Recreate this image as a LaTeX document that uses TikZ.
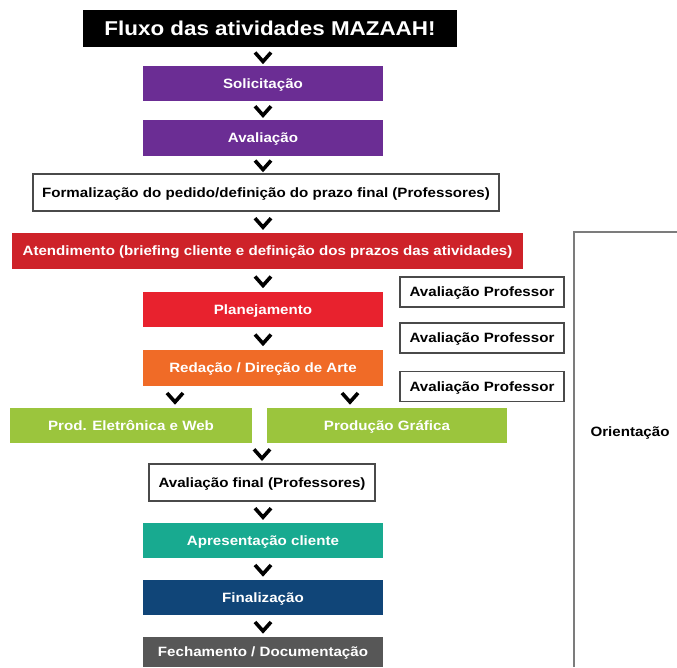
\documentclass[tikz,border=0pt]{standalone}
\usepackage{fontspec}
\setmainfont{Liberation Sans}
\newfontfamily\heavyfont[FakeStretch=1.12]{Liberation Sans}
\usetikzlibrary{calc}
\definecolor{cpurple}{HTML}{6B2D94}
\definecolor{cdred}{HTML}{CE2229}
\definecolor{cred}{HTML}{E8222E}
\definecolor{corange}{HTML}{F06B27}
\definecolor{cgreen}{HTML}{9BC53D}
\definecolor{cteal}{HTML}{18AA90}
\definecolor{cnavy}{HTML}{104578}
\definecolor{cgray}{HTML}{575757}
\definecolor{cline}{HTML}{7C7C7C}
\definecolor{cborder}{HTML}{4A4A4A}
\tikzset{
  x=1pt, y=-1pt,
  base/.style={rectangle, inner sep=0pt, anchor=center, text height=9.7pt, text depth=0pt,
    font=\heavyfont\bfseries\fontsize{13.5}{15}\selectfont},
  colbox/.style={base, fill=#1, text=white},
  whitebox/.style={base, draw=cborder, line width=1.2pt, fill=white, text=black},
  chev/.pic={\draw[line width=3.6pt, miter limit=10, black] (-8,-4) -- (0,5) -- (8,-4);}
}
\begin{document}
\begin{tikzpicture}
\useasboundingbox (0,0) rectangle (677,667);
% title
\node[base, fill=black, text=white, minimum width=374, minimum height=37, text height=14.3pt,
  font=\heavyfont\bfseries\fontsize{20}{22}\selectfont] (title) at (270,28.5) {Fluxo das atividades MAZAAH!};
% main column
\node[colbox=cpurple, minimum width=240, minimum height=35] (sol) at (263,83.5) {Solicitação};
\node[colbox=cpurple, minimum width=240, minimum height=36] (aval) at (263,137.5) {Avaliação};
\node[whitebox, minimum width=466, minimum height=37] (form) at (266,192.5) {Formalização do pedido/definição do prazo final (Professores)};
\node[colbox=cdred, minimum width=511, minimum height=36] (aten) at (267.5,251) {Atendimento (briefing cliente e definição dos prazos das atividades)};
\node[colbox=cred, minimum width=240, minimum height=35] (plan) at (263,309.5) {Planejamento};
\node[colbox=corange, minimum width=240, minimum height=36] (reda) at (263,368) {Redação / Direção de Arte};
\node[colbox=cgreen, minimum width=242, minimum height=35] (web) at (131,425.5) {Prod. Eletrônica e Web};
\node[colbox=cgreen, minimum width=240, minimum height=35] (graf) at (387,425.5) {Produção Gráfica};
\node[whitebox, minimum width=226, minimum height=37] (final) at (262,482.5) {Avaliação final (Professores)};
\node[colbox=cteal, minimum width=240, minimum height=35] (apres) at (263,540.5) {Apresentação cliente};
\node[colbox=cnavy, minimum width=240, minimum height=35] (fin) at (263,597.5) {Finalização};
\node[colbox=cgray, minimum width=240, minimum height=30] (fech) at (263,652) {Fechamento / Documentação};
% professor evaluations
\node[whitebox, minimum width=164, minimum height=30] (ap1) at (482,292) {Avaliação Professor};
\node[whitebox, minimum width=164, minimum height=30] (ap2) at (482,338) {Avaliação Professor};
\node[whitebox, minimum width=164, minimum height=30] (ap3) at (482,386.5) {Avaliação Professor};
% orientation bracket
\coordinate (obot) at (574,667);
\coordinate (otop) at (574,232);
\coordinate (oright) at (677,232);
\draw[cline, line width=2pt] (obot) -- (otop) -- (oright);
\node[base, text=black] (orient) at (630,432) {Orientação};
% chevrons
\coordinate (t1) at (sol.north |- title.south);
\pic at ($(t1)!0.5!(sol.north)$) {chev};
\pic at ($(sol.south)!0.5!(aval.north)$) {chev};
\coordinate (t3) at (aval.south |- form.north);
\pic at ($(aval.south)!0.5!(t3)$) {chev};
\coordinate (t4a) at (sol.south |- form.south);
\coordinate (t4b) at (sol.south |- aten.north);
\pic at ($(t4a)!0.5!(t4b)$) {chev};
\coordinate (t5) at (plan.north |- aten.south);
\pic at ($(t5)!0.5!(plan.north)$) {chev};
\pic at ($(plan.south)!0.5!(reda.north)$) {chev};
\coordinate (t7a) at ([xshift=44pt]web.north |- reda.south);
\coordinate (t7b) at ([xshift=44pt]web.north);
\pic at ($(t7a)!0.5!(t7b)$) {chev};
\coordinate (t7c) at ([xshift=-37pt]graf.north |- reda.south);
\coordinate (t7d) at ([xshift=-37pt]graf.north);
\pic at ($(t7c)!0.5!(t7d)$) {chev};
\coordinate (t8) at (final.north |- web.south);
\pic at ($(t8)!0.5!(final.north)$) {chev};
\coordinate (t9) at (apres.north |- final.south);
\pic at ($(t9)!0.5!(apres.north)$) {chev};
\pic at ($(apres.south)!0.5!(fin.north)$) {chev};
\pic at ($(fin.south)!0.5!(fech.north)$) {chev};
\end{tikzpicture}
\end{document}
